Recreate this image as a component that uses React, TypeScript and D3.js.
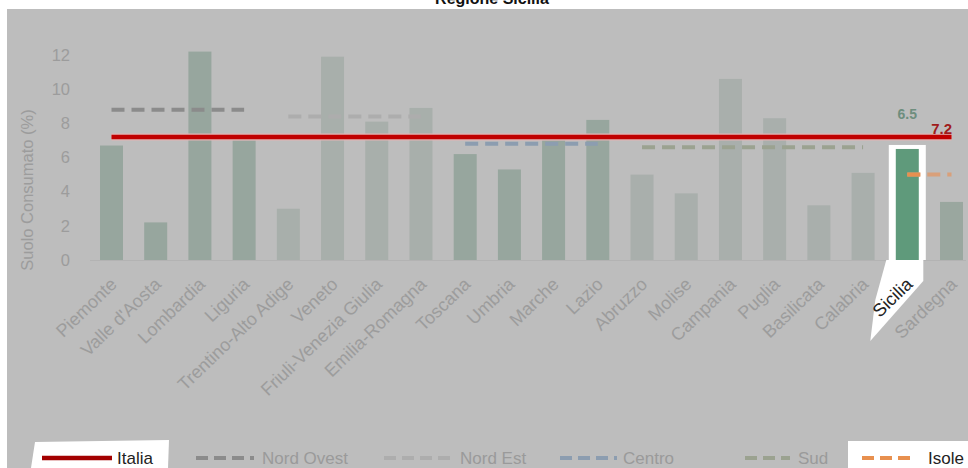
import React from "react";
import * as d3 from "d3";

const categories = ["Piemonte","Valle d'Aosta","Lombardia","Liguria","Trentino-Alto Adige","Veneto","Friuli-Venezia Giulia","Emilia-Romagna","Toscana","Umbria","Marche","Lazio","Abruzzo","Molise","Campania","Puglia","Basilicata","Calabria","Sicilia","Sardegna"];
const values = [6.7, 2.2, 12.2, 7.0, 3.0, 11.9, 8.1, 8.9, 6.2, 5.3, 7.0, 8.2, 5.0, 3.9, 10.6, 8.3, 3.2, 5.1, 6.5, 3.4];
const barGroup = ["no","no","no","no","ne","ne","ne","ne","ce","ce","ce","ce","su","su","su","su","su","su","si","sa"];
const yTicks = [0, 2, 4, 6, 8, 10, 12];
const italiaValue = 7.2;
const areaNames = ["Nord Ovest", "Nord Est", "Centro", "Sud", "Isole"];
const areaValues = [8.8, 8.4, 6.8, 6.6, 5.0];
const areaStart = ["Piemonte", "Trentino-Alto Adige", "Toscana", "Abruzzo", "Sicilia"];
const areaEnd = ["Liguria", "Emilia-Romagna", "Lazio", "Calabria", "Sardegna"];
const highlight = "Sicilia";

const FONT = "'Liberation Sans', Arial, sans-serif";

export default function App() {
  const W = 968, H = 468;
  const x = d3.scalePoint<string>().domain(categories).range([111.5, 951.5]);
  const y = d3.scaleLinear().domain([0, 12]).range([260, 55]);
  const bw = 23;
  const barColor: Record<string, string> = {
    no: "#97a69e", ne: "#a8afab", ce: "#97a69e", su: "#a9afac", si: "#5f9a7b", sa: "#9aa79f",
  };
  const areaColor = ["#8b8b8b", "#adadad", "#8c9db0", "#9ba290", "#d9a07a"];
  const hiIdx = categories.indexOf(highlight);
  const hx = x(highlight)!;

  const legend = [
    { label: "Italia", x0: 42, x1: 112, tx: 117, color: "#a30000", dash: null, text: "#222", box: true },
    { label: "Nord Ovest", x0: 196, x1: 254, tx: 262, color: areaColor[0], dash: "12 6", text: "#9a9a9a", box: false },
    { label: "Nord Est", x0: 384, x1: 452, tx: 460, color: areaColor[1], dash: "12 6", text: "#9a9a9a", box: false },
    { label: "Centro", x0: 560, x1: 617, tx: 623, color: areaColor[2], dash: "12 6", text: "#9a9a9a", box: false },
    { label: "Sud", x0: 745, x1: 790, tx: 798, color: areaColor[3], dash: "12 6", text: "#9a9a9a", box: false },
    { label: "Isole", x0: 862, x1: 910, tx: 928, color: "#e8904f", dash: "12 6", text: "#222", box: true },
  ];

  return (
    <svg width={W} height={H} style={{ position: "absolute", left: 0, top: 0, display: "block" }} fontFamily={FONT}>
      <rect x={0} y={0} width={W} height={H} fill="#ffffff" />
      <text x={492} y={4} textAnchor="middle" fontWeight="bold" fontSize={16} fill="#111">Regione Sicilia</text>
      <rect x={7} y={9} width={W - 7} height={H - 9} fill="#bdbdbd" />

      {/* y axis */}
      {yTicks.map((t) => (
        <text key={t} x={70} y={y(t)} dy="0.35em" textAnchor="end" fontSize={16.5} fill="#9c9c9c">{t}</text>
      ))}
      <text transform={`translate(27,${190}) rotate(-90)`} textAnchor="middle" dy="0.35em" fontSize={16.5} fill="#9c9c9c">Suolo Consumato (%)</text>

      {/* baseline */}
      <line x1={90} x2={966} y1={y(0) + 0.5} y2={y(0) + 0.5} stroke="#b3b3b3" strokeWidth={1} />

      {/* highlight for Sicilia */}
      <rect x={hx - bw / 2 - 7} y={y(values[hiIdx]) - 4} width={bw + 14} height={y(0) - y(values[hiIdx]) + 4} fill="#ffffff" />
      <polygon points={`${hx - 21},${y(0)} ${hx + 16},${y(0)} ${hx + 16},${y(0) + 21} ${hx - 37},${y(0) + 81} ${hx - 32},${y(0) + 40}`} fill="#ffffff" />

      {/* bars */}
      {categories.map((c, i) => (
        <rect key={c} x={x(c)! - bw / 2} y={y(values[i])} width={bw} height={y(0) - y(values[i])} fill={barColor[barGroup[i]]} />
      ))}

      {/* area dashed lines */}
      {areaNames.map((a, i) => (
        <line key={a} x1={x(areaStart[i])!} x2={x(areaEnd[i])!} y1={y(areaValues[i])} y2={y(areaValues[i])}
          stroke={areaColor[i]} strokeWidth={4} strokeDasharray="13 7" />
      ))}
      <line x1={x(areaStart[4])!} x2={x(areaStart[4])! + 13} y1={y(areaValues[4])} y2={y(areaValues[4])} stroke="#e8904f" strokeWidth={4} />

      {/* Italia line */}
      <line x1={x(categories[0])!} x2={x(categories[categories.length - 1])!} y1={y(italiaValue)} y2={y(italiaValue)} stroke="#e3b3b3" strokeWidth={7} />
      <line x1={x(categories[0])!} x2={x(categories[categories.length - 1])!} y1={y(italiaValue)} y2={y(italiaValue)} stroke="#c00000" strokeWidth={4.5} />

      {/* value labels */}
      <text x={hx} y={119} textAnchor="middle" fontWeight="bold" fontSize={14} fill="#6e8e7e">{values[hiIdx].toFixed(1)}</text>
      <text x={952} y={y(italiaValue) - 3} textAnchor="end" fontWeight="bold" fontSize={15} fill="#a01c1c">{italiaValue.toFixed(1)}</text>

      {/* category labels */}
      {categories.map((c) => (
        <text key={c} transform={`translate(${x(c)! + 2},${y(0) + 21}) rotate(-44)`} textAnchor="end" dy="0.35em"
          fontSize={18} fill={c === highlight ? "#222" : "#9c9c9c"}>{c}</text>
      ))}

      {/* legend */}
      {legend.map((l) => (
        <g key={l.label}>
          {l.box && l.label === "Italia" && <polygon points="35,442 169,440 168,468 31,468" fill="#ffffff" />}
          {l.box && l.label === "Isole" && <rect x={848} y={441} width={120} height={27} fill="#ffffff" />}
          <line x1={l.x0} x2={l.x1} y1={458} y2={458} stroke={l.color} strokeWidth={l.dash ? 4 : 4.5} strokeDasharray={l.dash || undefined} />
          <text x={l.tx} y={464} fontSize={17} fill={l.text}>{l.label}</text>
        </g>
      ))}
    </svg>
  );
}
